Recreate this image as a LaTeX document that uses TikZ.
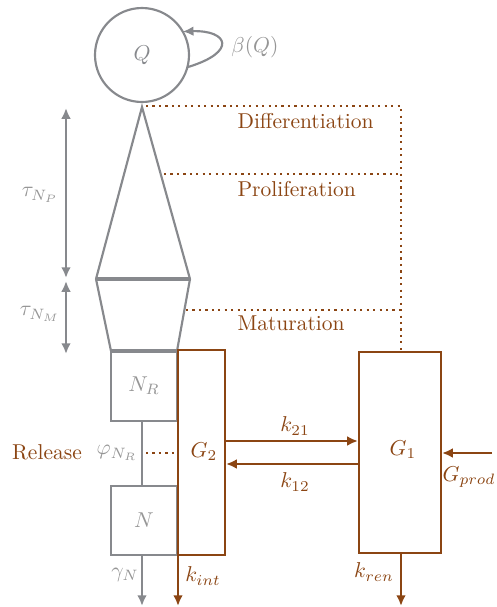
\documentclass[tikz,border=0pt]{standalone}
\usetikzlibrary{arrows.meta}
\definecolor{cgray}{RGB}{135,137,141}
\definecolor{lgray}{RGB}{150,150,150}
\definecolor{cbrown}{RGB}{139,69,19}
\begin{document}
\begin{tikzpicture}[x=0.465pt,y=-0.465pt,
  gline/.style={draw=cgray,line width=1pt},
  bline/.style={draw=cbrown,line width=1pt},
  dline/.style={draw=cbrown,line width=1pt,dotted},
  garr/.style={gline,-{Latex[length=5pt,width=4.5pt]}},
  barr/.style={bline,-{Latex[length=5pt,width=4.5pt]}},
  glab/.style={text=lgray,inner sep=1pt},
  blab/.style={text=cbrown,inner sep=1pt},
  gbox/.style={gline,minimum width=0pt,inner sep=0pt},
]
\useasboundingbox (0,0) rectangle (496,607);
% Q circle
\node[gline,circle,minimum size=94*0.465pt,inner sep=0pt,text=cgray] (Q) at (142,55) {$Q$};
\coordinate (l1) at (187.4,67.2);
\coordinate (l2) at (182.7,31.5);
\draw[garr] (l1) .. controls (238,52) and (228,30) .. (l2);
\node[glab] (beta) at (255,47) {$\beta(Q)$};
% triangle and trapezoid
\coordinate (apex) at (142,107);
\coordinate (bl) at (96,279);
\coordinate (br) at (190,279);
\coordinate (tl) at (111,351);
\coordinate (tr) at (177,351);
\draw[gline] (bl) -- (apex) -- (br);
\draw[gline] (bl) -- (tl);
\draw[gline] (br) -- (tr);
\draw[draw=cgray,line width=1.6pt] (bl) -- (br);
\draw[draw=cgray,line width=1.6pt] (tl) -- (tr);
% tau arrows
\coordinate (ta) at (66,108);
\coordinate (tb) at (66,278);
\coordinate (tc) at (66,281);
\coordinate (td) at (66,354);
\draw[gline,{Latex[length=5pt,width=4.5pt]}-{Latex[length=5pt,width=4.5pt]}] (ta) -- (tb);
\draw[gline,{Latex[length=5pt,width=4.5pt]}-{Latex[length=5pt,width=4.5pt]}] (tc) -- (td);
\node[glab] (tauP) at (40,195) {$\tau_{N_P}$};
\node[glab] (tauM) at (40,314) {$\tau_{N_M}$};
% N_R and N boxes
\draw[gline] (111,351) rectangle (177,421);
\node[glab] (NR) at (144,386) {$N_R$};
\draw[gline] (111,486) rectangle (177,555);
\node[glab] (N) at (144,520) {$N$};
\coordinate (nrb) at (142,421);
\coordinate (nt) at (142,486);
\draw[gline] (nrb) -- (nt);
\coordinate (nb) at (142,555);
\coordinate (ne) at (142,606);
\draw[garr] (nb) -- (ne);
\node[glab] (gam) at (125,575) {$\gamma_N$};
\node[glab] (phi) at (117,453) {$\varphi_{N_R}$};
\node[blab] (rel) at (47,452) {Release};
\coordinate (r1) at (146,453);
\coordinate (r2) at (177,453);
\draw[dline] (r1) -- (r2);
% G2
\draw[bline] (178,350) rectangle (225,555);
\node[blab] (G2) at (204,452) {$G_2$};
\coordinate (ki1) at (178,555);
\coordinate (ki2) at (178,606);
\draw[barr] (ki1) -- (ki2);
\node[blab] (kint) at (203,576) {$k_{int}$};
% G1
\draw[bline] (359,352) rectangle (441,553);
\node[blab] (G1) at (403,450) {$G_1$};
\coordinate (a1) at (225,441);
\coordinate (a2) at (358,441);
\draw[barr] (a1) -- (a2);
\node[blab] (k21) at (295,426) {$k_{21}$};
\coordinate (b1) at (359,464);
\coordinate (b2) at (226,464);
\draw[barr] (b1) -- (b2);
\node[blab] (k12) at (295,482) {$k_{12}$};
\coordinate (p1) at (492,453);
\coordinate (p2) at (442,453);
\draw[barr] (p1) -- (p2);
\node[blab] (Gp) at (469,477) {$G_{prod}$};
\coordinate (r3) at (401,553);
\coordinate (r4) at (401,606);
\draw[barr] (r3) -- (r4);
\node[blab] (kren) at (374,572) {$k_{ren}$};
% dotted regulation lines
\coordinate (d0) at (146,106);
\coordinate (d1) at (401,106);
\coordinate (d2) at (401,352);
\coordinate (p0) at (164,174);
\coordinate (pp) at (401,174);
\coordinate (m0) at (186,310);
\coordinate (mm) at (401,310);
\draw[dline] (d0) -- (d1) -- (d2);
\draw[dline] (p0) -- (pp);
\draw[dline] (m0) -- (mm);
\node[blab,anchor=west] (dif) at (235,121) {Differentiation};
\node[blab,anchor=west] (pro) at (235,189) {Proliferation};
\node[blab,anchor=west] (mat) at (235,323) {Maturation};
\end{tikzpicture}
\end{document}
